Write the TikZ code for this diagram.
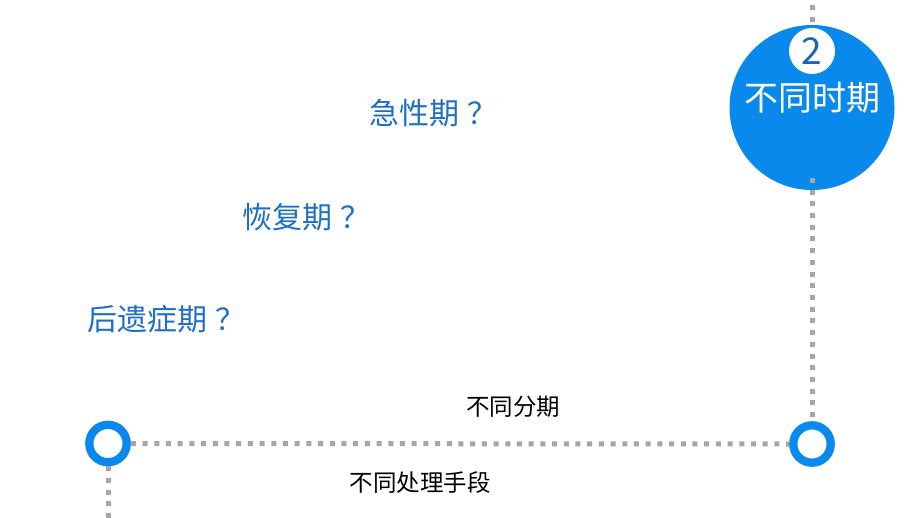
\documentclass[tikz,border=0pt]{standalone}
\usepackage{fontspec}
\newfontfamily\cjk{Noto Sans CJK SC}
\definecolor{mainblue}{HTML}{0A89EC}
\definecolor{textblue}{HTML}{1F6FC4}
\definecolor{numblue}{HTML}{1668B4}
\definecolor{dotgray}{HTML}{A6A6A6}
\newcommand{\qmk}{\hspace{0.28em}？}
\tikzset{
  dotline/.style={draw=dotgray, line width=5pt, dash pattern=on 5pt off 6.7pt},
  ring/.style={circle, draw=mainblue, line width=8.3pt, fill=white, minimum size=37.4pt, inner sep=0pt},
  question/.style={font=\cjk\fontsize{30}{32}\selectfont, text=textblue, anchor=west, inner sep=0pt},
  caption/.style={font=\cjk\fontsize{23.5}{26}\selectfont, text=black, inner sep=0pt},
}
\begin{document}
\begin{tikzpicture}[x=1pt,y=-1pt]
\useasboundingbox (0,0) rectangle (920,518);
\coordinate (top) at (812,5);
\coordinate (bot) at (108,518);
\coordinate (under) at (812,178);
\node[circle, fill=mainblue, minimum size=165pt, inner sep=0pt] (big) at (812,107.5) {};
\node[circle, fill=white, minimum size=46pt, inner sep=0pt, font=\cjk\fontsize{37}{37}\selectfont, text=numblue] (num) at (812,51) {2};
\node[font=\cjk\fontsize{34}{36}\selectfont, text=white, inner sep=0pt] (title) at (812,98) {不同时期};
\node[ring] (r1) at (108,443.5) {};
\node[ring] (r2) at (812,444) {};
\draw[dotline] (top) -- (big.north);
\draw[dotline] (under) -- (r2.north);
\draw[dotline] (r1.east) -- (r2.west);
\draw[dotline] (r1.south) -- (bot);
\node[question] (q1) at (369,113) {急性期\qmk};
\node[question] (q2) at (242,217) {恢复期\qmk};
\node[question] (q3) at (87,319) {后遗症期\qmk};
\node[caption] (c1) at (513,407) {不同分期};
\node[caption] (c2) at (420,483) {不同处理手段};
\end{tikzpicture}
\end{document}
